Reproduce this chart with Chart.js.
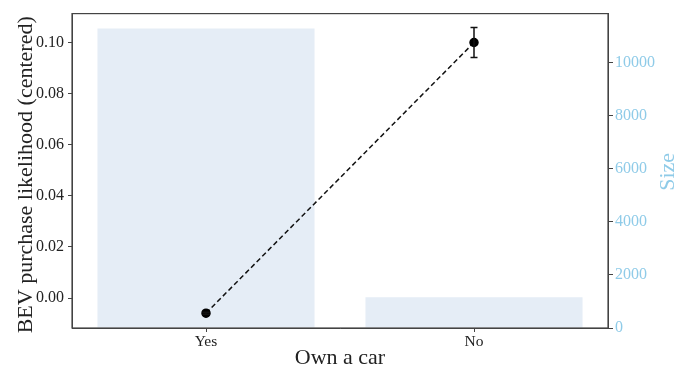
<!DOCTYPE html>
<html>
<head>
<meta charset="utf-8">
<script src="https://cdn.jsdelivr.net/npm/chart.js@4"></script>
<style>
  html, body { margin: 0; padding: 0; background: #fff; }
  #wrap { width: 688px; height: 368px; }
</style>
</head>
<body>
<div id="wrap"><canvas id="chart"></canvas></div>
<script>
// values
let categories = ['Yes', 'No'];
let likelihood = [-0.0059, 0.1];
let likelihoodErr = [0.0004, 0.0059];
let sizes = [11280, 1160];
let leftTicks = [0, 0.02, 0.04, 0.06, 0.08, 0.10];
let rightTicks = [0, 2000, 4000, 6000, 8000, 10000];

let sky = '#8fcbe8';
let serif = "'Liberation Serif', 'DejaVu Serif', serif";

Chart.defaults.font.family = serif;
Chart.defaults.color = '#222';

function sideTitle(ctx, text, x, y, color) {
  ctx.save();
  ctx.translate(x, y);
  ctx.rotate(-Math.PI / 2);
  ctx.fillStyle = color;
  ctx.font = '22px ' + serif;
  ctx.textAlign = 'center';
  ctx.textBaseline = 'alphabetic';
  ctx.fillText(text, 0, 0);
  ctx.restore();
}

// frame round the plot, error bars on the line points, and the two side titles
let framePlugin = {
  id: 'frame',
  afterDatasetsDraw(chart) {
    let ctx = chart.ctx;
    let y = chart.scales.y;
    let meta = chart.getDatasetMeta(1);
    ctx.save();
    ctx.strokeStyle = '#111';
    ctx.lineWidth = 1.5;
    meta.data.forEach((pt, i) => {
      let top = y.getPixelForValue(likelihood[i] + likelihoodErr[i]);
      let bot = y.getPixelForValue(likelihood[i] - likelihoodErr[i]);
      ctx.beginPath();
      ctx.moveTo(pt.x, top); ctx.lineTo(pt.x, bot);
      ctx.moveTo(pt.x - 3.5, top); ctx.lineTo(pt.x + 3.5, top);
      ctx.moveTo(pt.x - 3.5, bot); ctx.lineTo(pt.x + 3.5, bot);
      ctx.stroke();
    });
    let a = chart.chartArea;
    ctx.strokeStyle = '#444';
    ctx.lineWidth = 1.2;
    ctx.strokeRect(a.left, a.top, a.right - a.left, a.bottom - a.top);
    ctx.restore();
  },
  afterDraw(chart) {
    let a = chart.chartArea;
    let mid = (a.top + a.bottom) / 2;
    sideTitle(chart.ctx, 'BEV purchase likelihood (centered)', 32, mid + 4, '#222');
    sideTitle(chart.ctx, 'Size', 674, mid + 1, sky);
  }
};

new Chart(document.getElementById('chart').getContext('2d'), {
  type: 'bar',
  data: {
    labels: categories,
    datasets: [{
      type: 'bar',
      label: 'Size',
      data: sizes,
      yAxisID: 'y1',
      backgroundColor: '#e5edf6',
      borderWidth: 0,
      categoryPercentage: 1,
      barPercentage: 0.81,
      order: 2
    }, {
      type: 'line',
      label: 'Likelihood',
      data: likelihood,
      yAxisID: 'y',
      borderColor: '#111',
      borderWidth: 1.5,
      borderDash: [5, 3],
      pointRadius: 4,
      pointBackgroundColor: '#000',
      pointBorderColor: '#000',
      order: 1
    }]
  },
  options: {
    responsive: true,
    maintainAspectRatio: false,
    animation: false,
    layout: { padding: { top: 13 } },
    plugins: {
      legend: { display: false },
      tooltip: { enabled: false }
    },
    scales: {
      x: {
        grid: { drawOnChartArea: false, offset: false, tickLength: 4, color: '#444' },
        border: { color: '#444' },
        ticks: { font: { size: 15.5 }, color: '#222', padding: 1 },
        title: { display: true, text: 'Own a car', font: { size: 22, lineHeight: 1 }, color: '#222', padding: { top: 0, bottom: -1 } },
        afterFit(s) { s.height = 40; }
      },
      y: {
        position: 'left',
        min: -0.0117,
        max: 0.1113,
        grid: { drawOnChartArea: false, tickLength: 4, color: '#444' },
        border: { color: '#444' },
        afterBuildTicks(s) { s.ticks = leftTicks.map(v => ({ value: v })); },
        ticks: { font: { size: 16 }, color: '#222', padding: 4, callback: v => Number(v).toFixed(2) },
        title: { display: false },
        afterFit(s) { s.width = 72; }
      },
      y1: {
        position: 'right',
        min: 0,
        max: 11840,
        grid: { drawOnChartArea: false, tickLength: 5, color: '#444' },
        border: { color: '#444' },
        afterBuildTicks(s) { s.ticks = rightTicks.map(v => ({ value: v })); },
        ticks: { font: { size: 16 }, color: sky, padding: 2, callback: v => String(v) },
        title: { display: false },
        afterFit(s) { s.width = 80; }
      }
    }
  },
  plugins: [framePlugin]
});
</script>
</body>
</html>
